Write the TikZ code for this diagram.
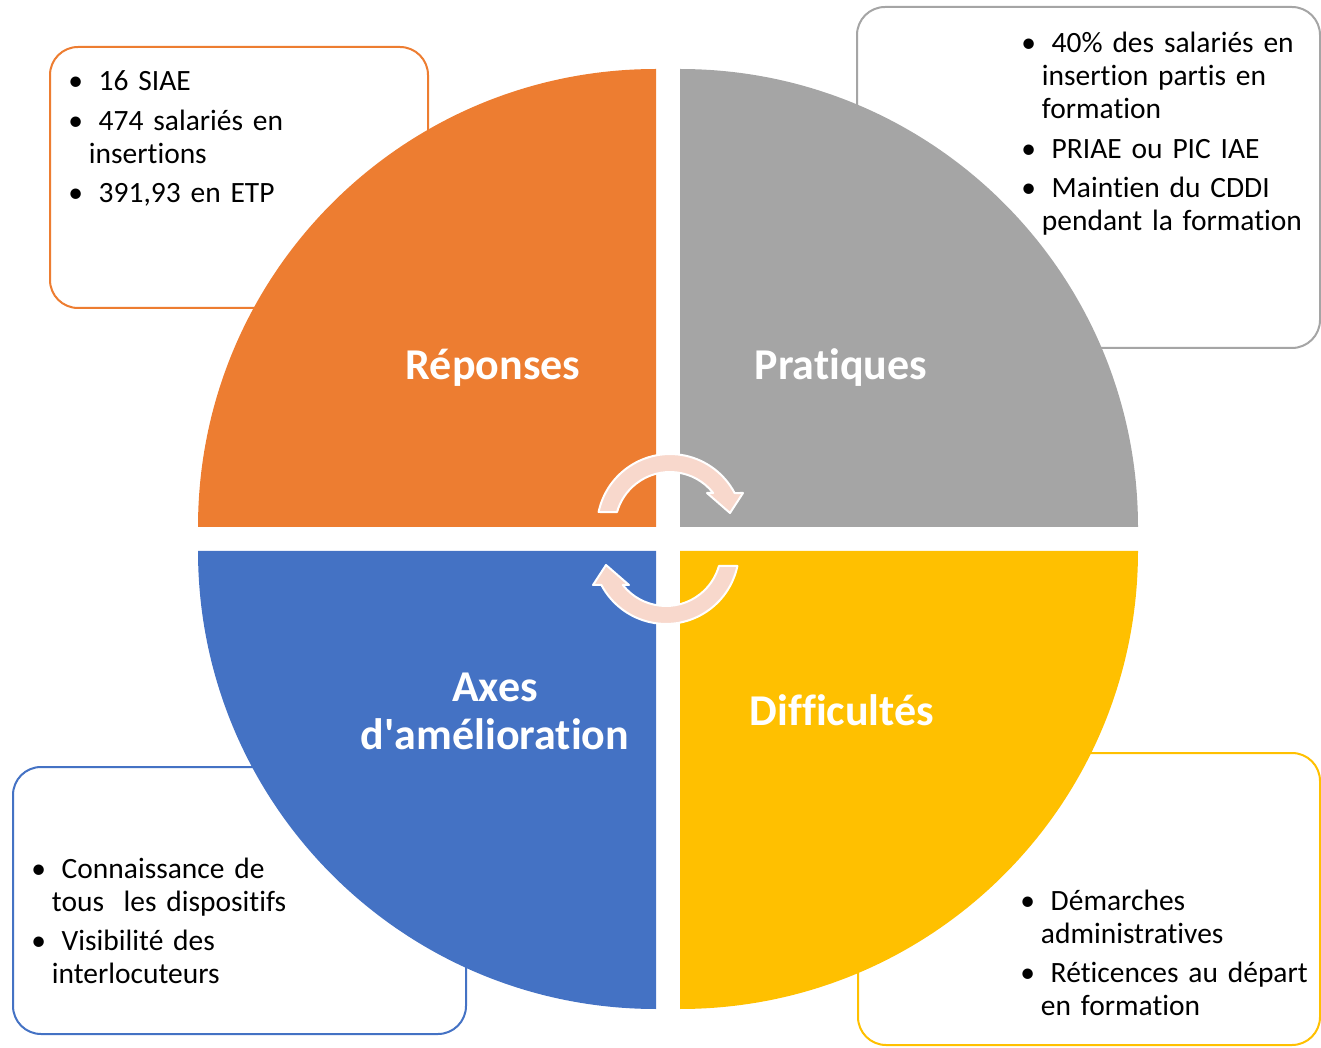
\documentclass[tikz,border=0pt]{standalone}
\usepackage{fontspec}
\setmainfont{Carlito}[Ligatures=NoCommon]
\usepackage{tikz}
\definecolor{ccorange}{HTML}{ED7D31}
\definecolor{ccgris}{HTML}{A5A5A5}
\definecolor{ccbleu}{HTML}{4472C4}
\definecolor{ccjaune}{HTML}{FFC000}
\definecolor{ccrose}{RGB}{248,216,204}
\newcommand{\puce}{\hangindent=15.5pt\hangafter=1\noindent\makebox[15.5pt][l]{\textbullet}\ }
\tikzset{
  encadre/.style={line width=1.5pt,fill=white,rounded corners=21pt},
  titre/.style={text=white,font=\fontsize{33}{36}\selectfont\bfseries,anchor=base,inner sep=0pt},
  liste/.style={anchor=base west,inner sep=0pt,text width=300pt,align=left,
    font=\fontsize{22.1}{24.75}\selectfont,execute at begin node={\setlength{\parskip}{4.8pt}}},
  fleche/.style={fill=ccrose,draw=white,line width=1.5pt}
}
\begin{document}
\begin{tikzpicture}[line cap=round,line join=round,x=0.75pt,y=0.75pt]
		\clip(0,0) rectangle (1321,1047);
		% cadres
		\draw [encadre,draw=ccorange] (50,739) rectangle (428,1000);
		\draw [encadre,draw=ccgris] (857,699) rectangle (1320,1040);
		\draw [encadre,draw=ccbleu] (13,13) rectangle (466,280);
		\draw [encadre,draw=ccjaune] (858,2) rectangle (1320,294);
		% quartiers
		\fill [ccorange] (656,520) -- (656,978) arc[start angle=90,end angle=180,radius=458] -- cycle;
		\fill [ccgris] (680,520) -- (1138,520) arc[start angle=0,end angle=90,radius=458] -- cycle;
		\fill [ccbleu] (656,496) -- (198,496) arc[start angle=180,end angle=270,radius=458] -- cycle;
		\fill [ccjaune] (680,496) -- (680,38) arc[start angle=270,end angle=360,radius=458] -- cycle;
		\node[titre] (reponses) at (493,667) {Réponses};
		\node[titre] (pratiques) at (841,667) {Pratiques};
		\node[titre,text width=300pt,align=center] (axes) at (495,345) {Axes\\d\textquotesingle amélioration};
		\node[titre] (difficultes) at (842,321) {Difficultés};
		% fleches circulaires
		\foreach \rot in {0,180}
		\draw [fleche,rotate around={\rot:(668,508)}] (598.6,535) arc[start angle=168.1,end angle=27.8,radius=73]
		-- (743,554) -- (730,534) -- (707,554) -- (713.2,554) arc[start angle=38.2,end angle=164.2,radius=55] -- cycle;
		% textes
		\node[liste] (txtreponses) at (68,956) {\puce 16 SIAE\par
		\puce 474 salariés en\newline insertions\par
		\puce 391,93 en ETP\par};
		\node[liste] (txtpratiques) at (1021,994) {\puce 40\% des salariés en\newline insertion partis en\newline formation\par
		\puce PRIAE ou PIC IAE\par
		\puce Maintien du CDDI\newline pendant la formation\par};
		\node[liste] (txtaxes) at (31,169) {\puce Connaissance de\newline tous\ \ les dispositifs\par
		\puce Visibilité des\newline interlocuteurs\par};
		\node[liste] (txtdifficultes) at (1020,137) {\puce Démarches\newline administratives\par
		\puce Réticences au départ\newline en formation\par};
\end{tikzpicture}
\end{document}
